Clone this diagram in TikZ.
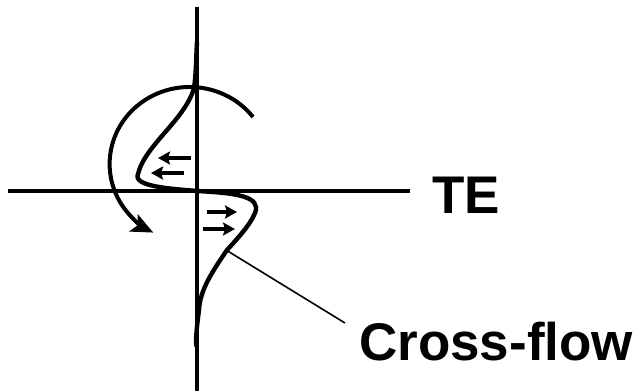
\documentclass[tikz,border=0pt]{standalone}
\usepackage{fontspec}
\setmainfont{Liberation Sans}
\usetikzlibrary{arrows.meta}
\tikzset{
  axis/.style={line width=3.4pt},
  profile/.style={line width=4.4pt, line cap=round, line join=round},
  swirl/.style={line width=4pt, -{Stealth[length=22pt,width=19pt,inset=5pt]}},
  flowarrow/.style={line width=3.6pt, -{Stealth[length=12pt,width=13pt,inset=2pt]}},
  leader/.style={line width=1.6pt},
  lbl/.style={font=\fontsize{53}{60}\selectfont\bfseries, inner sep=0pt, anchor=base west}
}
\begin{document}
\begin{tikzpicture}[x=1pt,y=-1pt]
\useasboundingbox (0,0) rectangle (639,391);
% axes
\coordinate (vt) at (197,7);
\coordinate (vb) at (197,391);
\coordinate (hl) at (8,191);
\coordinate (hr) at (410,191);
\draw[axis] (vt) -- (vb);
\draw[axis] (hl) -- (hr);
% profile
\coordinate (p0) at (197,42);
\coordinate (p1) at (194,88);
\coordinate (pn1) at (138,174);
\coordinate (pc) at (197,191);
\coordinate (pn2) at (255,213);
\coordinate (p3) at (227,250);
\coordinate (p4) at (199,310);
\coordinate (p5) at (196,345);
\draw[profile] (p0) .. controls (196,60) and (196,75) .. (p1)
  .. controls (185,120) and (145,145) .. (pn1)
  .. controls (132,187) and (175,189) .. (pc)
  .. controls (235,193) and (262,196) .. (pn2)
  .. controls (250,225) and (238,238) .. (p3)
  .. controls (212,272) and (200,290) .. (p4)
  .. controls (197,325) and (196,335) .. (p5);
% rotation arrow
\draw[swirl] (253,117) arc[start angle=-37.6, end angle=-243, x radius=80, y radius=77];
% flow arrows
\coordinate (a1s) at (191,158); \coordinate (a1e) at (158,158);
\coordinate (a2s) at (184,173); \coordinate (a2e) at (151,173);
\coordinate (a3s) at (207,212); \coordinate (a3e) at (237,212);
\coordinate (a4s) at (203,229); \coordinate (a4e) at (235,229);
\draw[flowarrow] (a1s) -- (a1e);
\draw[flowarrow] (a2s) -- (a2e);
\draw[flowarrow] (a3s) -- (a3e);
\draw[flowarrow] (a4s) -- (a4e);
% labels
\node[lbl] (te) at (432,213) {TE};
\node[lbl] (cf) at (359,360) {Cross-flow};
\coordinate (ls) at (226,250);
\coordinate (le) at (345,323);
\draw[leader] (ls) -- (le);
\end{tikzpicture}
\end{document}
